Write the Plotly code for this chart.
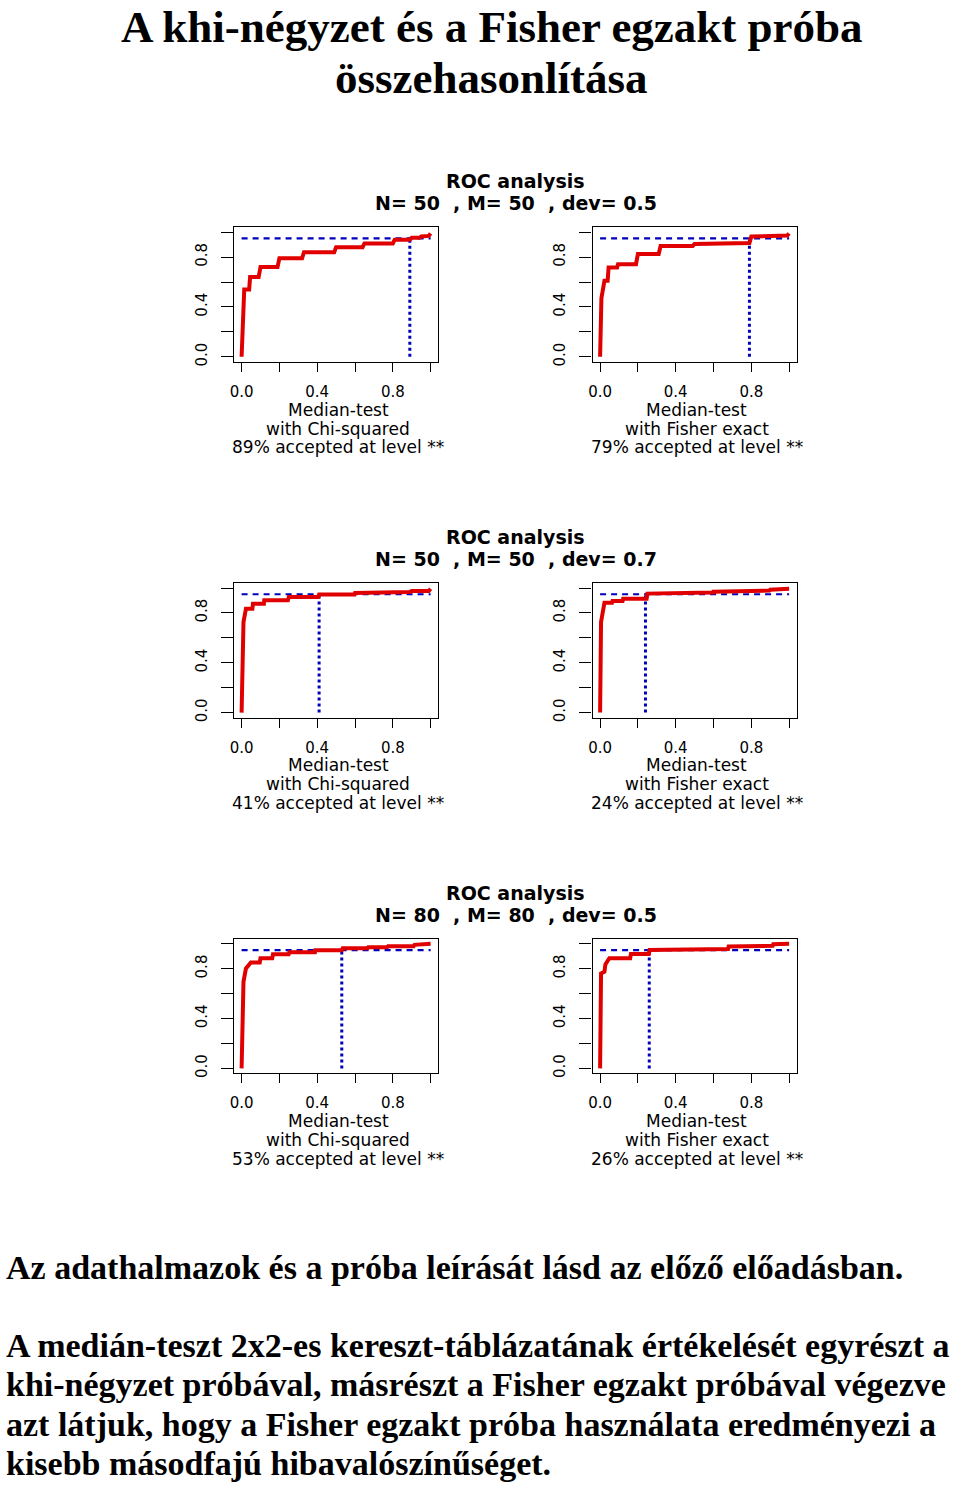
import plotly.graph_objects as go

W, H = 960, 1487

# ── data ──────────────────────────────────────────────────────
panel_titles = ['N= 50\u00a0\u00a0, M= 50\u00a0\u00a0, dev= 0.5',
                'N= 50\u00a0\u00a0, M= 50\u00a0\u00a0, dev= 0.7',
                'N= 80\u00a0\u00a0, M= 80\u00a0\u00a0, dev= 0.5']
methods = ['with Chi-squared', 'with Fisher exact']
accepted = [[0.89, 0.79], [0.41, 0.24], [0.53, 0.26]]
level = 0.95

# ROC step curves (x, y vertices), row by row, left then right
roc_x = [
    [0, 0.014, 0.04, 0.045, 0.09, 0.10, 0.19, 0.20, 0.32, 0.33, 0.49, 0.50,
     0.64, 0.65, 0.80, 0.81, 0.89, 0.90, 0.94, 0.95, 0.99, 1.0],
    [0, 0.007, 0.023, 0.04, 0.045, 0.09, 0.095, 0.19, 0.20, 0.31, 0.32, 0.49,
     0.50, 0.64, 0.65, 0.79, 0.80, 0.89, 0.90, 0.99, 1.0],
    [0, 0.01, 0.023, 0.057, 0.06, 0.118, 0.12, 0.245, 0.25, 0.405, 0.41,
     0.597, 0.60, 0.736, 0.74, 0.89, 0.90, 0.99, 1.0],
    [0, 0.005, 0.023, 0.063, 0.066, 0.119, 0.122, 0.246, 0.25, 0.407, 0.41,
     0.599, 0.60, 0.747, 0.75, 0.895, 0.90, 0.99, 1.0],
    [0, 0.01, 0.023, 0.049, 0.096, 0.10, 0.162, 0.166, 0.249, 0.253, 0.388,
     0.39, 0.53, 0.535, 0.666, 0.67, 0.77, 0.775, 0.91, 0.915, 1.0],
    [0, 0.005, 0.023, 0.028, 0.049, 0.159, 0.163, 0.258, 0.262, 0.407,
     0.41, 0.677, 0.68, 0.782, 0.785, 0.913, 0.916, 1.0],
]
roc_y = [
    [0, 0.54, 0.54, 0.64, 0.64, 0.72, 0.72, 0.79, 0.79, 0.84, 0.84, 0.88,
     0.88, 0.91, 0.91, 0.94, 0.94, 0.955, 0.955, 0.965, 0.97, 0.99],
    [0, 0.47, 0.61, 0.61, 0.716, 0.716, 0.743, 0.743, 0.826, 0.826, 0.89, 0.89,
     0.906, 0.906, 0.914, 0.914, 0.965, 0.965, 0.973, 0.973, 0.99],
    [0, 0.727, 0.834, 0.834, 0.874, 0.874, 0.901, 0.901, 0.928, 0.928, 0.947,
     0.947, 0.96, 0.96, 0.968, 0.968, 0.976, 0.976, 0.995],
    [0, 0.727, 0.882, 0.882, 0.896, 0.896, 0.914, 0.914, 0.955, 0.955, 0.963,
     0.963, 0.971, 0.971, 0.979, 0.979, 0.987, 0.987, 0.995],
    [0, 0.695, 0.803, 0.851, 0.851, 0.884, 0.884, 0.916, 0.916, 0.932, 0.932,
     0.949, 0.949, 0.965, 0.965, 0.973, 0.973, 0.981, 0.981, 0.992, 1.0],
    [0, 0.762, 0.776, 0.835, 0.884, 0.884, 0.919, 0.919, 0.951, 0.951, 0.959,
     0.959, 0.978, 0.978, 0.984, 0.984, 0.997, 1.0],
]

tick_vals = [0, 0.2, 0.4, 0.6, 0.8, 1.0]
tick_text = ['0.0', '', '0.4', '', '0.8', '']

title_text = ['A khi-négyzet és a Fisher egzakt próba', 'összehasonlítása']
note_text = 'Az adathalmazok és a próba leírását lásd az előző előadásban.'
para_text = ['A medián-teszt 2x2-es kereszt-táblázatának értékelését egyrészt a',
             'khi-négyzet próbával, másrészt a Fisher egzakt próbával végezve',
             'azt látjuk, hogy a Fisher egzakt próba használata eredményezi a',
             'kisebb másodfajú hibavalószínűséget.']

# ── layout, in page pixels ────────────────────────────────────
col_left = [231, 591]
box_w = 205
row_top = [228, 585, 942]
box_h = 135

RED = '#e00000'
BLUE = '#0000bb'
SANS = 'DejaVu Sans, Verdana, sans-serif'
SERIF = 'Liberation Serif, Times New Roman, serif'


def fx(x):
    return x / W


def fy(y):
    return 1 - y / H


fig = go.Figure()
annotations = []

for r in range(3):
    for c in range(2):
        k = r * 2 + c + 1
        xa = 'x' if k == 1 else f'x{k}'
        ya = 'y' if k == 1 else f'y{k}'
        x0 = col_left[c]
        y0 = row_top[r]
        axis_common = dict(
            range=[-0.04, 1.04], tickvals=tick_vals, ticktext=tick_text,
            showgrid=False, zeroline=False, showline=True, mirror=True,
            linecolor='black', linewidth=1.2, ticks='outside',
            tickcolor='black', tickwidth=1.2,
            tickfont=dict(family=SANS, size=15, color='black'),
        )
        fig.update_layout(**{
            ('xaxis' if k == 1 else f'xaxis{k}'): dict(
                axis_common, domain=[fx(x0), fx(x0 + box_w)],
                anchor=ya, ticklen=9, ticklabelstandoff=7),
            ('yaxis' if k == 1 else f'yaxis{k}'): dict(
                axis_common, domain=[fy(y0 + box_h), fy(y0)],
                anchor=xa, ticklen=12, tickangle=-90, ticklabelstandoff=8),
        })
        p = accepted[r][c]
        # level line (dashed) and accepted fraction (dotted)
        fig.add_trace(go.Scatter(
            x=[0, 1], y=[level, level], mode='lines', xaxis=xa, yaxis=ya,
            line=dict(color=BLUE, width=2.2, dash='6px,5px'), hoverinfo='skip'))
        fig.add_trace(go.Scatter(
            x=[p, p], y=[0, level], mode='lines', xaxis=xa, yaxis=ya,
            line=dict(color=BLUE, width=3, dash='dot'), hoverinfo='skip'))
        fig.add_trace(go.Scatter(
            x=roc_x[k - 1], y=roc_y[k - 1], mode='lines', xaxis=xa, yaxis=ya,
            line=dict(color=RED, width=4), hoverinfo='skip'))

        # text under each panel
        cx = fx(x0 + box_w / 2 + 2)
        lines = ['Median-test', methods[c],
                 f'{round(p * 100)}% accepted at level **']
        for i, t in enumerate(lines):
            annotations.append(dict(
                text=t, x=cx, y=fy(y0 + 183 + i * 19), xref='paper', yref='paper',
                showarrow=False, xanchor='center', yanchor='middle',
                font=dict(family=SANS, size=17, color='black')))

    # row heading
    for i, t in enumerate(['<b>ROC analysis</b>', f'<b>{panel_titles[r]}</b>']):
        annotations.append(dict(
            text=t, x=fx(514), y=fy(row_top[r] - 46 + i * 22), xref='paper', yref='paper',
            showarrow=False, xanchor='center', yanchor='middle',
            font=dict(family=SANS, size=19, color='black')))

# page title
for i, t in enumerate(title_text):
    annotations.append(dict(
        text=f'<b>{t}</b>', x=fx(490), y=fy(27 + i * 51), xref='paper', yref='paper',
        showarrow=False, xanchor='center', yanchor='middle',
        font=dict(family=SERIF, size=45, color='black')))

# notes at the bottom
annotations.append(dict(
    text=f'<b>{note_text}</b>', x=fx(0), y=fy(1272), xref='paper', yref='paper',
    showarrow=False, xanchor='left', yanchor='middle',
    font=dict(family=SERIF, size=34, color='black')))
for i, t in enumerate(para_text):
    annotations.append(dict(
        text=f'<b>{t}</b>', x=fx(0), y=fy(1350 + i * 39.5), xref='paper', yref='paper',
        showarrow=False, xanchor='left', yanchor='middle',
        font=dict(family=SERIF, size=34, color='black')))

fig.update_layout(
    width=W, height=H,
    margin=dict(l=0, r=0, t=0, b=0),
    paper_bgcolor='white', plot_bgcolor='white',
    showlegend=False,
    annotations=annotations,
)

# drop the default page margin so the figure fills the 960x1487 window
fig.write_html('out.html', config={'displayModeBar': False},
               post_script="document.body.style.margin = '0';")
